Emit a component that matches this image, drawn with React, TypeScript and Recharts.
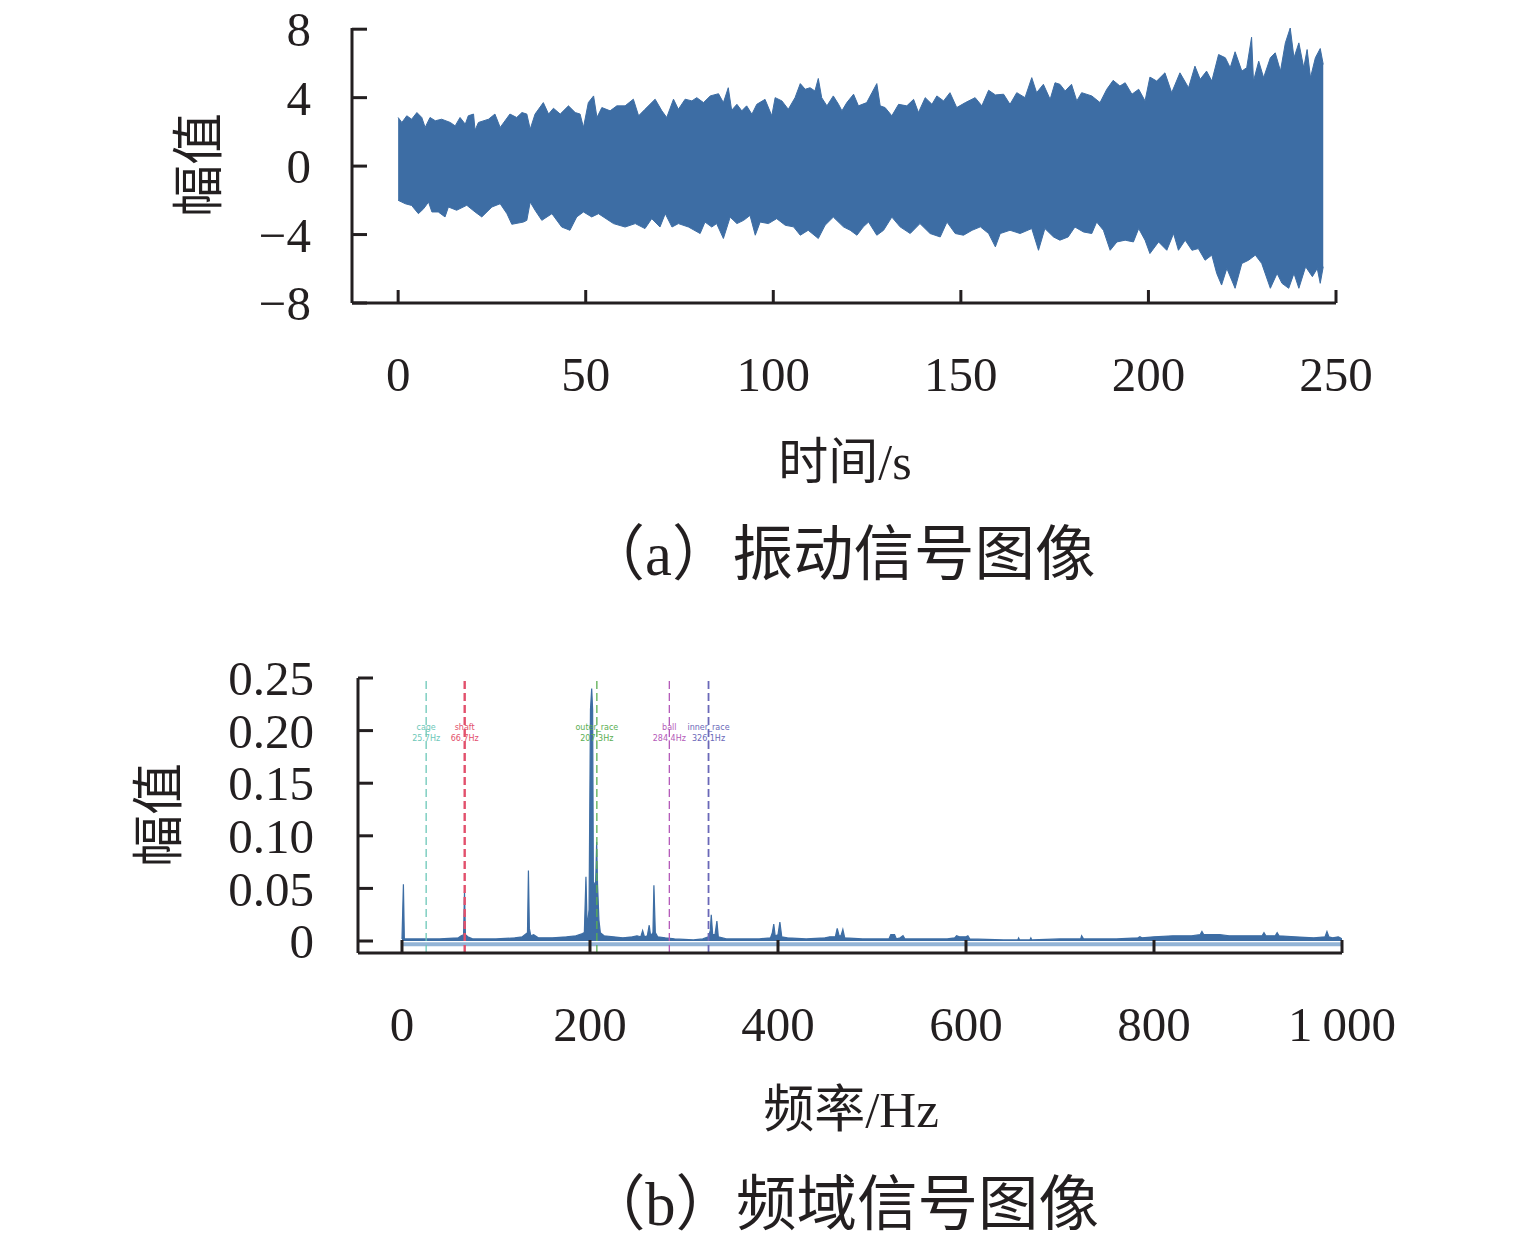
import { Area, ComposedChart, ReferenceLine, XAxis, YAxis } from "recharts";

const SERIF = '"Liberation Serif", "Noto Sans CJK SC", serif';
const BLUE = "#3d6da4";
const INK = "#231f20";

// (a) vibration signal: upper / lower envelope, [time s, amplitude]
const upperEnvelope: [number, number][] = [
  [0, 2.84], [1.0, 2.55], [2.3, 2.94], [3.6, 2.74], [5.0, 3.13], [6.3, 2.84], [7.2, 2.26],
  [8.5, 2.84], [9.9, 2.65], [11.6, 2.74], [13.9, 2.55], [15.2, 2.35], [16.5, 2.84],
  [17.9, 2.45], [18.7, 2.94], [20.1, 3.04], [20.5, 2.1], [21.4, 2.55], [24.1, 2.74],
  [25.8, 3.04], [27.2, 2.26], [29.8, 3.04], [31.6, 2.84], [33, 3.13], [34.3, 3.04],
  [35.2, 2.16], [36.5, 3.04], [38.7, 3.71], [40.1, 3.04], [41.4, 3.38], [43.2, 3.04],
  [45.4, 3.52], [47.2, 3.13], [48.5, 3.04], [49.4, 2.26], [50.7, 3.71], [52.1, 4.1],
  [53, 2.84], [54.3, 3.42], [56.5, 3.23], [58.3, 3.52], [60.5, 3.52], [62.7, 3.91],
  [64.1, 2.94], [65.8, 3.32], [68.5, 3.91], [70.3, 3.23], [71.6, 2.84], [73.4, 3.91],
  [74.7, 3.32], [76.5, 3.91], [78.3, 3.81], [79.6, 4.0], [81.4, 3.71], [83.2, 4.1],
  [85.4, 4.23], [86.7, 3.71], [88.0, 4.58], [88.9, 3.26], [90.3, 3.61], [91.6, 3.23],
  [92.9, 3.52], [94.3, 3.03], [95.6, 3.61], [97.8, 3.9], [99.6, 2.94], [100.5, 4.0],
  [102.3, 3.81], [104.0, 3.32], [105.8, 4.0], [107.2, 4.82], [108.5, 4.49], [109.8, 4.58],
  [111.1, 4.39], [112.0, 5.12], [112.9, 4.0], [114.3, 3.52], [116.0, 4.1], [117.4, 3.61],
  [118.3, 3.23], [119.6, 3.71], [121.4, 4.2], [122.7, 3.52], [124.9, 3.71], [126.3, 4.29],
  [127.6, 4.82], [128.5, 3.52], [129.8, 3.42], [131.6, 2.94], [133.4, 3.61], [135.6, 3.52],
  [137.4, 3.9], [138.7, 3.13], [140.5, 4.0], [142.3, 3.61], [143.6, 4.1], [145.4, 3.81],
  [147.1, 4.29], [148.9, 3.42], [151.2, 3.71], [153.8, 4.0], [155.6, 3.52], [157.4, 4.43],
  [159.2, 4.16], [161.4, 4.2], [163.1, 3.61], [164.9, 4.29], [167.1, 4.0], [168.9, 5.17],
  [170.2, 4.29], [172.0, 4.78], [173.8, 3.9], [175.1, 4.87], [176.4, 4.78], [177.8, 4.39],
  [179.5, 4.78], [180.9, 3.81], [182.2, 4.29], [184.9, 4.1], [187.1, 3.71], [188.9, 4.49],
  [190.6, 5.01], [192.4, 4.68], [193.8, 4.87], [195.6, 4.2], [197.4, 4.49], [199.1, 3.81],
  [200.4, 5.2], [202.2, 4.97], [204.4, 5.45], [206.2, 4.29], [208.4, 5.45], [210.7, 4.58],
  [212.4, 5.84], [213.8, 5.07], [215.5, 5.55], [216.9, 4.97], [218.7, 6.52], [220.5, 6.33],
  [221.8, 5.75], [223.1, 6.68], [224.9, 5.55], [226.2, 5.75], [227.5, 7.53], [228.0, 4.97],
  [229.4, 6.13], [230.7, 5.17], [232.5, 6.33], [233.8, 6.62], [235.2, 5.55], [236.5, 7.2],
  [237.8, 8.07], [238.8, 6.33], [240.1, 7.2], [241.4, 5.75], [242.3, 6.81], [243.2, 5.17],
  [244.5, 6.33], [245.8, 6.87], [246.6, 5.94],
];

const lowerEnvelope: [number, number][] = [
  [0, -2.0], [1.9, -2.2], [3.6, -2.3], [5.4, -2.78], [6.8, -2.49], [8.1, -2.1], [9.0, -2.68],
  [10.7, -2.68], [12.5, -2.97], [13.4, -2.39], [15.6, -2.58], [18.3, -2.29], [20.5, -2.68],
  [22.3, -2.97], [25, -2.39], [27.2, -2.2], [29, -2.78], [30.3, -3.4], [33.4, -3.27],
  [34.3, -3.17], [35.2, -2.1], [36.5, -2.58], [38.3, -3.17], [41, -2.78], [43.6, -3.56],
  [45.8, -3.75], [47.6, -2.97], [49.4, -2.68], [51.6, -2.97], [53.4, -2.78], [57.4, -3.36],
  [60.5, -3.56], [63.2, -3.36], [65.8, -3.65], [67.6, -3.07], [69.8, -3.56], [71.2, -2.78],
  [73, -3.56], [74.7, -3.36], [77.4, -3.56], [80.5, -3.94], [81.8, -3.27], [83.6, -3.56],
  [84.9, -3.36], [86.7, -4.23], [88.5, -2.98], [90.3, -3.36], [92.1, -3.17], [93.8, -2.88],
  [95.2, -4.04], [96.5, -3.27], [98.7, -3.36], [100.9, -3.07], [103.2, -3.46],
  [105.4, -3.55], [107.2, -4.04], [109.3, -3.75], [112.0, -4.23], [113.8, -3.46],
  [116.0, -2.98], [118.7, -3.55], [120.5, -3.75], [122.3, -4.04], [124.0, -3.55],
  [125.4, -3.27], [127.6, -4.04], [129.4, -3.75], [131.6, -2.98], [133.8, -3.55],
  [136.5, -3.94], [139.1, -3.36], [141.8, -3.94], [144.5, -4.14], [146.3, -3.27],
  [148.5, -3.94], [150.7, -4.04], [153.0, -3.75], [155.2, -3.55], [157.4, -3.94],
  [159.2, -4.72], [160.5, -3.94], [163.1, -3.75], [165.8, -3.94], [168.9, -3.65],
  [170.7, -4.92], [172.4, -3.65], [174.7, -4.14], [176.4, -4.33], [178.6, -4.14],
  [180.4, -3.56], [182.7, -3.85], [184.9, -3.94], [186.2, -3.27], [188.0, -3.75],
  [189.8, -4.92], [191.6, -4.43], [193.8, -4.33], [196.0, -4.43], [197.4, -3.65],
  [199.1, -4.33], [200.4, -5.11], [202.7, -4.43], [204.9, -4.92], [206.7, -3.94],
  [208.0, -4.92], [209.8, -4.33], [211.6, -4.92], [213.3, -4.82], [215.1, -5.5],
  [216.9, -5.2], [218.2, -6.27], [219.5, -6.95], [220.9, -5.98], [223.1, -7.14],
  [224.9, -5.69], [226.7, -5.5], [228.5, -5.2], [230.2, -5.69], [232.5, -7.14],
  [234.3, -6.27], [235.6, -6.85], [237.4, -7.14], [238.8, -6.27], [240.1, -7.14],
  [241.9, -5.88], [243.7, -6.46], [245.0, -5.98], [245.8, -6.85], [246.6, -5.88],
];

const timeTicks = [0, 50, 100, 150, 200, 250];
const ampTicks = [-8, -4, 0, 4, 8];

// (b) spectrum, [frequency Hz, amplitude]
const spectrum: [number, number][] = [
  [0, 0.002], [1.5, 0.054], [2.5, 0.002], [20, 0.002], [40, 0.002], [60, 0.003], [63, 0.005],
  [65.5, 0.006], [66.5, 0.047], [67.5, 0.006], [70, 0.004], [75, 0.002], [100, 0.002],
  [120, 0.003], [128, 0.004], [133.5, 0.008], [134.5, 0.067], [135.5, 0.012], [137, 0.005],
  [140, 0.006], [145, 0.003], [160, 0.003], [175, 0.004], [185, 0.005], [192, 0.007],
  [194, 0.008], [195.7, 0.061], [197, 0.012], [199, 0.03], [200.5, 0.22], [201.8, 0.24],
  [202.8, 0.22], [203.6, 0.055], [206, 0.055], [207.1, 0.094], [208, 0.055], [209.5, 0.02],
  [211, 0.008], [215, 0.005], [225, 0.004], [235, 0.003], [245, 0.004], [250, 0.005],
  [254, 0.004], [256, 0.01], [258, 0.004], [261, 0.005], [263, 0.015], [264.5, 0.005],
  [267, 0.008], [268, 0.053], [269.5, 0.008], [272, 0.004], [280, 0.003], [290, 0.002],
  [310, 0.001], [320, 0.002], [326, 0.004], [328, 0.01], [329, 0.025], [330.5, 0.006],
  [333, 0.006], [335, 0.019], [336.5, 0.004], [345, 0.002], [380, 0.002], [392, 0.003],
  [394, 0.008], [395.5, 0.016], [397, 0.005], [400, 0.006], [402, 0.018], [404, 0.004],
  [410, 0.003], [430, 0.002], [450, 0.003], [455, 0.004], [461, 0.004], [463, 0.012],
  [465, 0.005], [467, 0.005], [469, 0.011], [471, 0.003], [490, 0.002], [518, 0.002],
  [520, 0.006], [524, 0.006], [526, 0.002], [530, 0.003], [533, 0.005], [535, 0.002],
  [580, 0.002], [588, 0.003], [590, 0.005], [593, 0.004], [600, 0.004], [602, 0.005],
  [604, 0.002], [640, 0.001], [655, 0.001], [656, 0.003], [657, 0.001], [668, 0.001],
  [669, 0.003], [670, 0.001], [700, 0.002], [722, 0.002], [723, 0.005], [725, 0.002],
  [760, 0.002], [783, 0.003], [785, 0.004], [787, 0.003], [800, 0.004], [820, 0.005],
  [840, 0.005], [849, 0.006], [851, 0.009], [853, 0.006], [870, 0.006], [880, 0.005],
  [900, 0.005], [915, 0.005], [917, 0.008], [919, 0.005], [929, 0.005], [931, 0.008],
  [933, 0.005], [950, 0.004], [970, 0.003], [982, 0.004], [984, 0.009], [986, 0.004],
  [990, 0.003], [996, 0.004], [998, 0.003], [1000, 0.002],
];

const faultNames = ["cage", "shaft", "outer_race", "ball", "inner_race"];
const faultFreqs = [25.7, 66.7, 207.3, 284.4, 326.1];
const faultColors = ["#6cc7b8", "#e2506c", "#5aae52", "#b45ab9", "#6a68b8"];
const faultWidths = [1.3, 2.4, 1.3, 1.3, 1.8];

const freqTicks = [0, 200, 400, 600, 800, 1000];
const specTicks = [0, 0.05, 0.1, 0.15, 0.2, 0.25];

const signalRows = [
  ...upperEnvelope.map(([t, v]) => ({ t, up: v })),
  ...lowerEnvelope.map(([t, v]) => ({ t, lo: v })),
].sort((a, b) => a.t - b.t);

const spectrumRows = spectrum.map(([f, a]) => ({ f, a }));

const fmtSigned = (v: number) => (v < 0 ? "\u2212" + Math.abs(v) : String(v));
const fmtFreq = (v: number) => (v >= 1000 ? "1\u2009000" : String(v));

const LeftTick = ({ x, y, payload, fmt, gap }: any) => (
  <g>
    <line x1={x} x2={x + 15} y1={y} y2={y} stroke={INK} strokeWidth={3} />
    <text
      x={x - gap}
      y={y}
      dy="0.35em"
      textAnchor="end"
      fontFamily={SERIF}
      fontSize={49}
      fill={INK}
    >
      {fmt(payload.value)}
    </text>
  </g>
);

const BottomTick = ({ x, y, payload, fmt }: any) => (
  <g>
    <line x1={x} x2={x} y1={y} y2={y - 13} stroke={INK} strokeWidth={3} />
    <text
      x={x}
      y={y + 88}
      textAnchor="middle"
      fontFamily={SERIF}
      fontSize={49}
      fill={INK}
    >
      {fmt(payload.value)}
    </text>
  </g>
);

const FaultLabel = ({ viewBox, name, freq, color }: any) => (
  <g fontFamily="DejaVu Sans, sans-serif" fontSize={8} fill={color} textAnchor="middle">
    <text x={viewBox.x} y={viewBox.y + 52}>{name}</text>
    <text x={viewBox.x} y={viewBox.y + 63}>{freq}Hz</text>
  </g>
);

const Caption = ({ x, y, size, text, rotate }: any) => (
  <div
    style={{
      position: "absolute",
      left: x,
      top: y,
      transform: `translate(-50%, -50%)${rotate ? " rotate(-90deg)" : ""}`,
      fontFamily: SERIF,
      fontSize: size,
      lineHeight: 1,
      whiteSpace: "nowrap",
      color: INK,
    }}
  >
    {text}
  </div>
);

export default function App() {
  return (
    <div style={{ position: "absolute", left: 0, top: 0, width: 1535, height: 1245, background: "#fff" }}>
      <div style={{ position: "absolute", left: 0, top: 0 }}>
        <ComposedChart
          width={1535}
          height={420}
          data={signalRows}
          margin={{ top: 28, right: 199, bottom: 116, left: 351 }}
        >
          <XAxis
            dataKey="t"
            type="number"
            domain={[-12.3, 250]}
            ticks={timeTicks}
            height={1}
            tickSize={0}
            tickMargin={0}
            tickLine={false}
            axisLine={{ stroke: INK, strokeWidth: 3 }}
            tick={(p: any) => <BottomTick {...p} fmt={String} />}
            allowDataOverflow
          />
          <YAxis
            type="number"
            domain={[-8, 8]}
            ticks={ampTicks}
            width={1}
            tickSize={0}
            tickMargin={0}
            tickLine={false}
            axisLine={{ stroke: INK, strokeWidth: 3 }}
            tick={(p: any) => <LeftTick {...p} fmt={fmtSigned} gap={41} />}
          />
          <Area
            dataKey="up"
            type="linear"
            baseValue={0}
            connectNulls
            stroke={BLUE}
            strokeWidth={1}
            fill={BLUE}
            fillOpacity={1}
            isAnimationActive={false}
          />
          <Area
            dataKey="lo"
            type="linear"
            baseValue={0}
            connectNulls
            stroke={BLUE}
            strokeWidth={1}
            fill={BLUE}
            fillOpacity={1}
            isAnimationActive={false}
          />
        </ComposedChart>
      </div>

      <div style={{ position: "absolute", left: 0, top: 600 }}>
        <ComposedChart
          width={1535}
          height={480}
          data={spectrumRows}
          margin={{ top: 78, right: 193, bottom: 126, left: 357 }}
        >
          <XAxis
            dataKey="f"
            type="number"
            domain={[-46.8, 1000]}
            ticks={freqTicks}
            height={1}
            tickSize={0}
            tickMargin={0}
            tickLine={false}
            axisLine={{ stroke: INK, strokeWidth: 3 }}
            tick={(p: any) => <BottomTick {...p} fmt={fmtFreq} />}
            allowDataOverflow
          />
          <YAxis
            type="number"
            domain={[-0.0114, 0.25]}
            ticks={specTicks}
            width={1}
            tickSize={0}
            tickMargin={0}
            tickLine={false}
            axisLine={{ stroke: INK, strokeWidth: 3 }}
            tick={(p: any) => (
              <LeftTick {...p} fmt={(v: number) => (v === 0 ? "0" : v.toFixed(2))} gap={44} />
            )}
            allowDataOverflow
          />
          <ReferenceLine
            segment={[
              { x: 0, y: -0.003 },
              { x: 1000, y: -0.003 },
            ]}
            stroke="#93b4d6"
            strokeWidth={4}
          />
          <Area
            dataKey="a"
            type="linear"
            baseValue={0}
            stroke={BLUE}
            strokeWidth={1.2}
            fill={BLUE}
            fillOpacity={1}
            isAnimationActive={false}
          />
          {faultFreqs.map((f, i) => (
            <ReferenceLine
              key={faultNames[i]}
              x={f}
              stroke={faultColors[i]}
              strokeWidth={faultWidths[i]}
              strokeDasharray="8 4"
              label={(p: any) => (
                <FaultLabel {...p} name={faultNames[i]} freq={f} color={faultColors[i]} />
              )}
            />
          ))}
        </ComposedChart>
      </div>

      <Caption x={200} y={165} size={52} text="幅值" rotate />
      <Caption x={845} y={462} size={50} text="时间/s" />
      <Caption x={840} y={555} size={60.5} text="（a）振动信号图像" />
      <Caption x={160} y={815} size={52} text="幅值" rotate />
      <Caption x={851} y={1110} size={51} text="频率/Hz" />
      <Caption x={842} y={1205} size={60.5} text="（b）频域信号图像" />
    </div>
  );
}
